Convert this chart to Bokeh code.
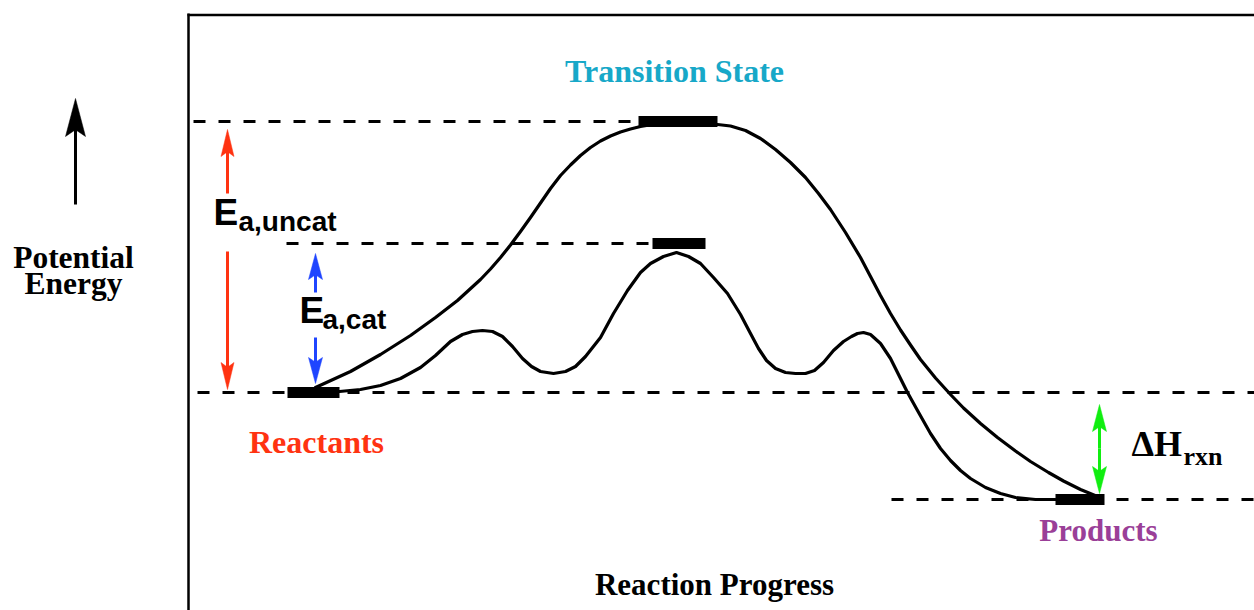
from bokeh.plotting import figure
from bokeh.models import Range1d
from bokeh.core.properties import value
from bokeh.embed import file_html
from bokeh.resources import INLINE

# ---------------- data (progress units, energy units) ----------------
# uncatalysed pathway
uncat_x = [315, 350, 380, 410, 435, 457, 480, 490, 500, 510,
           520, 530, 540, 550, 560, 570, 580, 590, 600, 610,
           620, 630, 640, 655, 670, 690, 705, 717, 730, 745,
           760, 775, 790, 805, 818, 830, 845, 860, 870, 880,
           890, 900, 910, 920, 935, 950, 963, 980, 997, 1015,
           1030, 1048, 1063, 1080, 1097]
uncat_e = [5, 21, 38, 57, 75, 92, 113, 123.5, 135, 147.5,
           161, 175, 189.5, 204, 217, 227.5, 237, 245, 251.5, 256.5,
           260.5, 263.5, 266, 268.5, 270, 270.5, 269.5, 268, 266.5, 262,
           254, 243, 230, 215, 199, 183, 160, 135, 116, 97,
           79, 62.5, 47.5, 33, 14.5, -2, -15.5, -31, -45, -58.5,
           -69, -80, -88.5, -97, -104]

# catalysed pathway
cat_x = [339, 360, 380, 400, 420, 435, 450, 462, 472, 482,
         492, 502, 512, 522, 531, 540, 553, 565, 575, 585,
         600, 613, 627, 640, 650, 663, 676, 688, 700, 713,
         727, 740, 750, 758, 766, 775, 785, 795, 805, 814,
         823, 833, 843, 851, 857, 863, 870, 880, 890, 898,
         907, 917, 930, 940, 950, 960, 970, 985, 1000, 1015,
         1035, 1055]
cat_e = [1, 3, 7, 14, 25, 37, 51, 58, 61, 62,
         61, 56, 46, 34, 26, 21, 19, 21, 26, 36,
         55, 79, 102, 120, 129, 136, 140, 136, 129, 115,
         99, 78, 59, 44, 32, 24, 20, 19, 19, 22,
         30, 42, 51, 56, 59, 60, 58, 49, 34, 18,
         0, -18, -41, -56, -68, -78, -86, -95, -101, -105,
         -107, -107]

# state levels: reactants, TS (uncat), TS (cat), products
level_left = [287, 638, 652, 1055]
level_right = [339, 717, 705, 1104]
level_energy = [0, 271, 149, -107]

# dashed reference lines
guide_start = [197, 193, 286, 891]
guide_end = [1254, 638, 652, 1254]
guide_energy = [0, 271, 149, -107]

# energy arrows: (x, tail energy, tip energy)
red_arrows = [(227, 199, 263), (227, 141, 3)]
blue_arrows = [(315, 100, 139), (315, 55, 9)]
green_arrows = [(1099, -56, -12), (1099, -56, -101)]
axis_arrow = [(75, 188, 294)]

# ---------------- figure ----------------
p = figure(width=1254, height=610, x_range=Range1d(0, 1254), y_range=Range1d(-218, 392),
           output_backend="svg", toolbar_location=None, min_border=0,
           x_axis_location=None, y_axis_location=None)
p.grid.visible = False
p.outline_line_color = None
p.background_fill_color = "white"

# frame (left + top lines)
p.segment(x0=[188, 187], y0=[379, 377.5], x1=[188, 1262], y1=[-230, 377.5],
          line_color="black", line_width=2.5)

# dashed guide lines
p.segment(x0=guide_start, y0=guide_energy, x1=guide_end, y1=guide_energy,
          line_color="black", line_width=3, line_dash="12 13")

# curves
p.line(uncat_x, uncat_e, line_color="black", line_width=3.2, line_join="round", line_cap="round")
p.line(cat_x, cat_e, line_color="black", line_width=3.2, line_join="round", line_cap="round")

# state bars
p.hbar(y=level_energy, left=level_left, right=level_right, height=11,
       fill_color="black", line_color=None)


def arrow(specs, color, head_len, head_w, width=3):
    xs0, ys0, xs1, ys1, hx, hy = [], [], [], [], [], []
    for x, tail, tip in specs:
        d = 1 if tip > tail else -1
        xs0.append(x); ys0.append(tail)
        xs1.append(x); ys1.append(tip - d * head_len * 0.8)
        hx.append([x, x + head_w / 2, x, x - head_w / 2])
        hy.append([tip, tip - d * head_len, tip - d * head_len * 0.82, tip - d * head_len])
    p.segment(x0=xs0, y0=ys0, x1=xs1, y1=ys1, line_color=color, line_width=width)
    p.patches(hx, hy, fill_color=color, line_color=color, line_width=0.5)


arrow(red_arrows, "#ff3311", 27, 13)
arrow(blue_arrows, "#1f45ff", 26, 14)
arrow(green_arrows, "#11ee11", 27, 14)
arrow(axis_arrow, "black", 38, 20)

# ---------------- labels ----------------
serif = value("Liberation Serif")
sans = value("Liberation Sans")


def label(x, y, txt, color="black", size=31, font=serif, align="center"):
    # y is the intended baseline; compensate for the renderer's baseline offset
    p.text(x=[x], y=[y + 0.37 * size], text=[txt], text_color=color, text_font=font,
           text_font_style="bold", text_font_size=f"{size}px", text_align=align,
           text_baseline="alphabetic")


label(674, 310, "Transition State", color="#17a8c8", size=32)
label(316, -61, "Reactants", color="#ff3311", size=32)
label(1098, -149, "Products", color="#9a3f98")
label(714, -203, "Reaction Progress")
label(73, 123, "Potential", size=31.5)
label(73, 97, "Energy", size=31.5)

# activation energy labels
label(213, 166, "E", size=37, font=sans, align="left")
label(238, 161, "a,uncat", size=28, font=sans, align="left")
label(299, 68, "E", size=37, font=sans, align="left")
label(322, 63, "a,cat", size=28, font=sans, align="left")

# enthalpy label
label(1131, -65, "\u0394H", size=36, align="left")
label(1183, -74, "rxn", size=26, align="left")

open("out.html", "w").write(file_html(p, INLINE))
